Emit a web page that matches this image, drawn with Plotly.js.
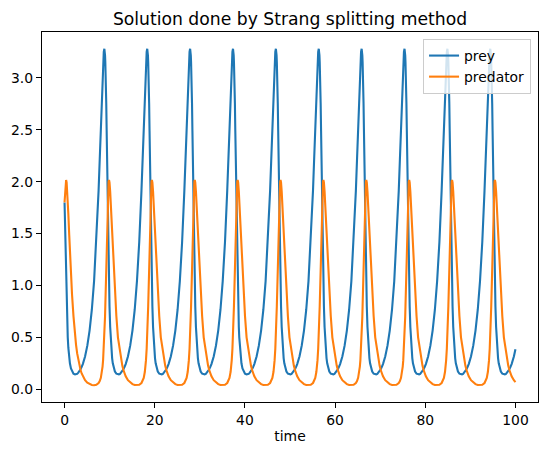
<!DOCTYPE html>
<html>
<head>
<meta charset="utf-8">
<script src="https://cdn.plot.ly/plotly-3.0.1.min.js"></script>
<style>html,body{margin:0;padding:0;background:#fff;}#chart{width:547px;height:455px;}</style>
</head>
<body>
<div id="chart"></div>
<script>
// Time samples (one cycle ≈ 9.5 time units)
var time = [
0,0.12,0.26,
0.35,0.46,0.61,0.71,0.84,1.04,1.19,1.42,1.66,1.98,2.33,2.55,2.8,3.05,3.3,3.55,3.8,4.05,4.55,5.05,5.55,6.05,6.55,7.05,7.55,7.8,8.05,8.3,8.43,8.55,8.7,8.83,8.91,8.98,9.04,9.1,9.15,9.25,9.34,9.44,9.56,9.64,9.77,
9.86,9.97,10.12,10.22,10.35,10.55,10.7,10.93,11.17,11.49,11.84,12.06,12.31,12.56,12.81,13.06,13.31,13.56,14.06,14.56,15.06,15.56,16.06,16.56,17.06,17.31,17.56,17.81,17.94,18.06,18.21,18.34,18.42,18.49,18.55,18.61,18.66,18.76,18.85,18.95,19.07,19.15,19.28,
19.37,19.48,19.63,19.73,19.86,20.06,20.21,20.44,20.68,21.0,21.35,21.57,21.82,22.07,22.32,22.57,22.82,23.07,23.57,24.07,24.57,25.07,25.57,26.07,26.57,26.82,27.07,27.32,27.45,27.57,27.72,27.85,27.93,28.0,28.06,28.12,28.17,28.27,28.36,28.46,28.58,28.66,28.79,
28.88,28.99,29.14,29.24,29.37,29.57,29.72,29.95,30.19,30.51,30.86,31.08,31.33,31.58,31.83,32.08,32.33,32.58,33.08,33.58,34.08,34.58,35.08,35.58,36.08,36.33,36.58,36.83,36.96,37.08,37.23,37.36,37.44,37.51,37.57,37.63,37.68,37.78,37.87,37.97,38.09,38.17,38.3,
38.39,38.5,38.65,38.75,38.88,39.08,39.23,39.46,39.7,40.02,40.37,40.59,40.84,41.09,41.34,41.59,41.84,42.09,42.59,43.09,43.59,44.09,44.59,45.09,45.59,45.84,46.09,46.34,46.47,46.59,46.74,46.87,46.95,47.02,47.08,47.14,47.19,47.29,47.38,47.48,47.6,47.68,47.81,
47.9,48.01,48.16,48.26,48.39,48.59,48.74,48.97,49.21,49.53,49.88,50.1,50.35,50.6,50.85,51.1,51.35,51.6,52.1,52.6,53.1,53.6,54.1,54.6,55.1,55.35,55.6,55.85,55.98,56.1,56.25,56.38,56.46,56.53,56.59,56.65,56.7,56.8,56.89,56.99,57.11,57.19,57.32,
57.41,57.52,57.67,57.77,57.9,58.1,58.25,58.48,58.72,59.04,59.39,59.61,59.86,60.11,60.36,60.61,60.86,61.11,61.61,62.11,62.61,63.11,63.61,64.11,64.61,64.86,65.11,65.36,65.49,65.61,65.76,65.89,65.97,66.04,66.1,66.16,66.21,66.31,66.4,66.5,66.62,66.7,66.83,
66.92,67.03,67.18,67.28,67.41,67.61,67.76,67.99,68.23,68.55,68.9,69.12,69.37,69.62,69.87,70.12,70.37,70.62,71.12,71.62,72.12,72.62,73.12,73.62,74.12,74.37,74.62,74.87,75.0,75.12,75.27,75.4,75.48,75.55,75.61,75.67,75.72,75.82,75.91,76.01,76.13,76.21,76.34,
76.43,76.54,76.69,76.79,76.92,77.12,77.27,77.5,77.74,78.06,78.41,78.63,78.88,79.13,79.38,79.63,79.88,80.13,80.63,81.13,81.63,82.13,82.63,83.13,83.63,83.88,84.13,84.38,84.51,84.63,84.78,84.91,84.99,85.06,85.12,85.18,85.23,85.33,85.42,85.52,85.64,85.72,85.85,
85.94,86.05,86.2,86.3,86.43,86.63,86.78,87.01,87.25,87.57,87.92,88.14,88.39,88.64,88.89,89.14,89.39,89.64,90.14,90.64,91.14,91.64,92.14,92.64,93.14,93.39,93.64,93.89,94.02,94.14,94.29,94.42,94.5,94.57,94.63,94.69,94.74,94.84,94.93,95.03,95.15,95.23,95.36,
95.45,95.56,95.71,95.81,95.94,96.14,96.29,96.52,96.76,97.08,97.43,97.65,97.9,98.15,98.4,98.65,98.9,99.15,99.65,100
];

var prey = [
1.8,1.56,1.19,
1.0,0.8,0.6,0.5,0.4,0.3,0.25,0.2,0.17,0.15,0.1425,0.144,0.148,0.16,0.174,0.192,0.215,0.242,0.316,0.42,0.565,0.766,1.042,1.416,1.914,2.211,2.535,2.864,3.02,3.152,3.25,3.28,3.262,3.218,3.153,3.072,2.978,2.755,2.49,2.18,1.8,1.56,1.19,
1.0,0.8,0.6,0.5,0.4,0.3,0.25,0.2,0.17,0.15,0.1425,0.144,0.148,0.16,0.174,0.192,0.215,0.242,0.316,0.42,0.565,0.766,1.042,1.416,1.914,2.211,2.535,2.864,3.02,3.152,3.25,3.28,3.262,3.218,3.153,3.072,2.978,2.755,2.49,2.18,1.8,1.56,1.19,
1.0,0.8,0.6,0.5,0.4,0.3,0.25,0.2,0.17,0.15,0.1425,0.144,0.148,0.16,0.174,0.192,0.215,0.242,0.316,0.42,0.565,0.766,1.042,1.416,1.914,2.211,2.535,2.864,3.02,3.152,3.25,3.28,3.262,3.218,3.153,3.072,2.978,2.755,2.49,2.18,1.8,1.56,1.19,
1.0,0.8,0.6,0.5,0.4,0.3,0.25,0.2,0.17,0.15,0.1425,0.144,0.148,0.16,0.174,0.192,0.215,0.242,0.316,0.42,0.565,0.766,1.042,1.416,1.914,2.211,2.535,2.864,3.02,3.152,3.25,3.28,3.262,3.218,3.153,3.072,2.978,2.755,2.49,2.18,1.8,1.56,1.19,
1.0,0.8,0.6,0.5,0.4,0.3,0.25,0.2,0.17,0.15,0.1425,0.144,0.148,0.16,0.174,0.192,0.215,0.242,0.316,0.42,0.565,0.766,1.042,1.416,1.914,2.211,2.535,2.864,3.02,3.152,3.25,3.28,3.262,3.218,3.153,3.072,2.978,2.755,2.49,2.18,1.8,1.56,1.19,
1.0,0.8,0.6,0.5,0.4,0.3,0.25,0.2,0.17,0.15,0.1425,0.144,0.148,0.16,0.174,0.192,0.215,0.242,0.316,0.42,0.565,0.766,1.042,1.416,1.914,2.211,2.535,2.864,3.02,3.152,3.25,3.28,3.262,3.218,3.153,3.072,2.978,2.755,2.49,2.18,1.8,1.56,1.19,
1.0,0.8,0.6,0.5,0.4,0.3,0.25,0.2,0.17,0.15,0.1425,0.144,0.148,0.16,0.174,0.192,0.215,0.242,0.316,0.42,0.565,0.766,1.042,1.416,1.914,2.211,2.535,2.864,3.02,3.152,3.25,3.28,3.262,3.218,3.153,3.072,2.978,2.755,2.49,2.18,1.8,1.56,1.19,
1.0,0.8,0.6,0.5,0.4,0.3,0.25,0.2,0.17,0.15,0.1425,0.144,0.148,0.16,0.174,0.192,0.215,0.242,0.316,0.42,0.565,0.766,1.042,1.416,1.914,2.211,2.535,2.864,3.02,3.152,3.25,3.28,3.262,3.218,3.153,3.072,2.978,2.755,2.49,2.18,1.8,1.56,1.19,
1.0,0.8,0.6,0.5,0.4,0.3,0.25,0.2,0.17,0.15,0.1425,0.144,0.148,0.16,0.174,0.192,0.215,0.242,0.316,0.42,0.565,0.766,1.042,1.416,1.914,2.211,2.535,2.864,3.02,3.152,3.25,3.28,3.262,3.218,3.153,3.072,2.978,2.755,2.49,2.18,1.8,1.56,1.19,
1.0,0.8,0.6,0.5,0.4,0.3,0.25,0.2,0.17,0.15,0.1425,0.144,0.148,0.16,0.174,0.192,0.215,0.242,0.316,0.42,0.565,0.766,1.042,1.416,1.914,2.211,2.535,2.864,3.02,3.152,3.25,3.28,3.262,3.218,3.153,3.072,2.978,2.755,2.49,2.18,1.8,1.56,1.19,
1.0,0.8,0.6,0.5,0.4,0.3,0.25,0.2,0.17,0.15,0.1425,0.144,0.148,0.16,0.174,0.192,0.215,0.242,0.316,0.386
];

var predator = [
1.8,1.9,2.0,
2.016,1.993,1.904,1.82,1.69,1.485,1.331,1.111,0.913,0.705,0.5,0.428,0.345,0.279,0.228,0.185,0.152,0.125,0.087,0.063,0.049,0.041,0.039,0.043,0.06,0.078,0.11,0.168,0.218,0.28,0.389,0.5,0.6,0.7,0.8,0.9,1.0,1.2,1.4,1.6,1.8,1.9,2.0,
2.016,1.993,1.904,1.82,1.69,1.485,1.331,1.111,0.913,0.705,0.5,0.428,0.345,0.279,0.228,0.185,0.152,0.125,0.087,0.063,0.049,0.041,0.039,0.043,0.06,0.078,0.11,0.168,0.218,0.28,0.389,0.5,0.6,0.7,0.8,0.9,1.0,1.2,1.4,1.6,1.8,1.9,2.0,
2.016,1.993,1.904,1.82,1.69,1.485,1.331,1.111,0.913,0.705,0.5,0.428,0.345,0.279,0.228,0.185,0.152,0.125,0.087,0.063,0.049,0.041,0.039,0.043,0.06,0.078,0.11,0.168,0.218,0.28,0.389,0.5,0.6,0.7,0.8,0.9,1.0,1.2,1.4,1.6,1.8,1.9,2.0,
2.016,1.993,1.904,1.82,1.69,1.485,1.331,1.111,0.913,0.705,0.5,0.428,0.345,0.279,0.228,0.185,0.152,0.125,0.087,0.063,0.049,0.041,0.039,0.043,0.06,0.078,0.11,0.168,0.218,0.28,0.389,0.5,0.6,0.7,0.8,0.9,1.0,1.2,1.4,1.6,1.8,1.9,2.0,
2.016,1.993,1.904,1.82,1.69,1.485,1.331,1.111,0.913,0.705,0.5,0.428,0.345,0.279,0.228,0.185,0.152,0.125,0.087,0.063,0.049,0.041,0.039,0.043,0.06,0.078,0.11,0.168,0.218,0.28,0.389,0.5,0.6,0.7,0.8,0.9,1.0,1.2,1.4,1.6,1.8,1.9,2.0,
2.016,1.993,1.904,1.82,1.69,1.485,1.331,1.111,0.913,0.705,0.5,0.428,0.345,0.279,0.228,0.185,0.152,0.125,0.087,0.063,0.049,0.041,0.039,0.043,0.06,0.078,0.11,0.168,0.218,0.28,0.389,0.5,0.6,0.7,0.8,0.9,1.0,1.2,1.4,1.6,1.8,1.9,2.0,
2.016,1.993,1.904,1.82,1.69,1.485,1.331,1.111,0.913,0.705,0.5,0.428,0.345,0.279,0.228,0.185,0.152,0.125,0.087,0.063,0.049,0.041,0.039,0.043,0.06,0.078,0.11,0.168,0.218,0.28,0.389,0.5,0.6,0.7,0.8,0.9,1.0,1.2,1.4,1.6,1.8,1.9,2.0,
2.016,1.993,1.904,1.82,1.69,1.485,1.331,1.111,0.913,0.705,0.5,0.428,0.345,0.279,0.228,0.185,0.152,0.125,0.087,0.063,0.049,0.041,0.039,0.043,0.06,0.078,0.11,0.168,0.218,0.28,0.389,0.5,0.6,0.7,0.8,0.9,1.0,1.2,1.4,1.6,1.8,1.9,2.0,
2.016,1.993,1.904,1.82,1.69,1.485,1.331,1.111,0.913,0.705,0.5,0.428,0.345,0.279,0.228,0.185,0.152,0.125,0.087,0.063,0.049,0.041,0.039,0.043,0.06,0.078,0.11,0.168,0.218,0.28,0.389,0.5,0.6,0.7,0.8,0.9,1.0,1.2,1.4,1.6,1.8,1.9,2.0,
2.016,1.993,1.904,1.82,1.69,1.485,1.331,1.111,0.913,0.705,0.5,0.428,0.345,0.279,0.228,0.185,0.152,0.125,0.087,0.063,0.049,0.041,0.039,0.043,0.06,0.078,0.11,0.168,0.218,0.28,0.389,0.5,0.6,0.7,0.8,0.9,1.0,1.2,1.4,1.6,1.8,1.9,2.0,
2.016,1.993,1.904,1.82,1.69,1.485,1.331,1.111,0.913,0.705,0.5,0.428,0.345,0.279,0.228,0.185,0.152,0.125,0.087,0.069
];

var xTicks = [0, 20, 40, 60, 80, 100];
var yTicks = [0.0, 0.5, 1.0, 1.5, 2.0, 2.5, 3.0];

var font = 'DejaVu Sans, sans-serif';

var traces = [
  {x: time, y: prey, name: 'prey', type: 'scatter', mode: 'lines',
   line: {color: '#1f77b4', width: 2.1}},
  {x: time, y: predator, name: 'predator', type: 'scatter', mode: 'lines',
   line: {color: '#ff7f0e', width: 2.1}}
];

var axisCommon = {
  showgrid: false, zeroline: false, showline: true, mirror: true,
  linecolor: '#000', linewidth: 1.1, ticks: 'outside', ticklen: 5,
  tickwidth: 1.1, tickcolor: '#000',
  tickfont: {family: font, size: 13.9, color: '#000'}
};

var layout = {
  width: 547, height: 455,
  margin: {l: 42, r: 9, t: 32, b: 53},
  paper_bgcolor: '#fff', plot_bgcolor: '#fff',
  font: {family: font, color: '#000'},
  title: {text: 'Solution done by Strang splitting method',
          font: {family: font, size: 17.2, color: '#000'},
          x: 0.5, xref: 'paper', xanchor: 'center',
          y: 1, yref: 'paper', yanchor: 'bottom', pad: {b: 7}},
  xaxis: Object.assign({}, axisCommon, {
    range: [-5, 105], tickmode: 'array', tickvals: xTicks,
    ticktext: xTicks.map(String),
    title: {text: 'time', font: {family: font, size: 13.9, color: '#000'}, standoff: 4}
  }),
  yaxis: Object.assign({}, axisCommon, {
    range: [-0.123, 3.442], tickmode: 'array', tickvals: yTicks,
    ticktext: yTicks.map(function (v) { return v.toFixed(1); })
  }),
  showlegend: true,
  legend: {x: 0.986, y: 0.981, xanchor: 'right', yanchor: 'top',
           bgcolor: 'rgba(255,255,255,0.8)', bordercolor: '#cccccc', borderwidth: 1,
           font: {family: font, size: 13.9, color: '#000'}, itemwidth: 30,
           tracegroupgap: 0}
};

Plotly.newPlot('chart', traces, layout, {staticPlot: true, displayModeBar: false});
</script>
</body>
</html>
